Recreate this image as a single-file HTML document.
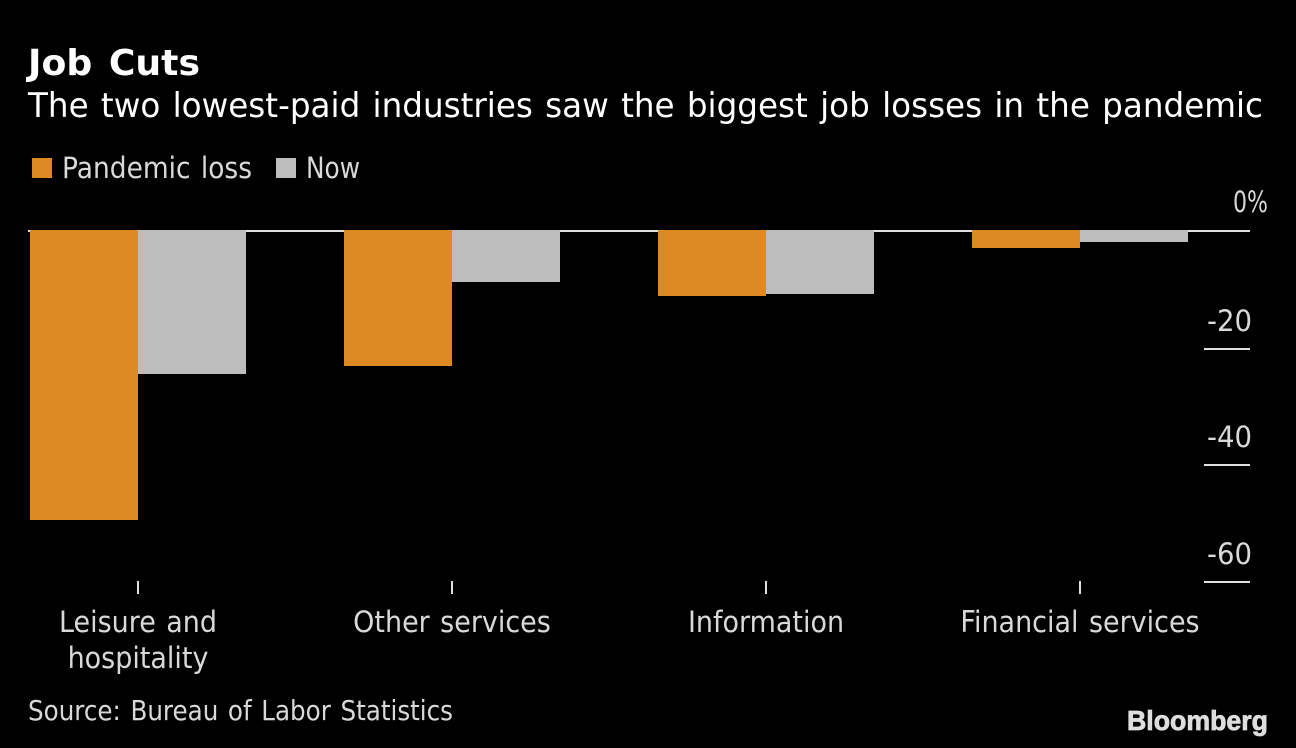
<!DOCTYPE html>
<html>
<head>
<meta charset="utf-8">
<style>
html,body{margin:0;padding:0;background:#000;width:1296px;height:748px;overflow:hidden}
svg{display:block}
text{font-family:"WenQuanYi Zen Hei","DejaVu Sans","Liberation Sans",sans-serif;word-spacing:2px}
</style>
</head>
<body>
<svg id="chart" xmlns="http://www.w3.org/2000/svg" width="1296" height="748" viewBox="0 0 1296 748">
<rect x="0" y="0" width="1296" height="748" fill="#000"/>
<text x="28" y="75" font-size="36" font-weight="700" fill="#fff" textLength="172" lengthAdjust="spacingAndGlyphs" style="word-spacing:4px">Job Cuts</text>
<text x="28" y="117" font-size="34" fill="#fff" textLength="1235" lengthAdjust="spacingAndGlyphs">The two lowest-paid industries saw the biggest job losses in the pandemic</text>
<rect x="32" y="158" width="20" height="20" fill="#dd8a24"/>
<text x="62" y="178" font-size="29" fill="#d9d9d9" textLength="190" lengthAdjust="spacingAndGlyphs">Pandemic loss</text>
<rect x="276" y="158" width="20" height="20" fill="#bdbdbd"/>
<text x="306" y="178" font-size="29" fill="#d9d9d9" textLength="54" lengthAdjust="spacingAndGlyphs">Now</text>
<g id="marks"></g>
<text x="28" y="720" font-size="28" fill="#d9d9d9" textLength="425" lengthAdjust="spacingAndGlyphs">Source: Bureau of Labor Statistics</text>
<text x="1127" y="730" font-size="28" font-weight="700" fill="#dedede" stroke="#dedede" stroke-width="0.8" textLength="141" lengthAdjust="spacingAndGlyphs" style="font-family:'Liberation Sans',sans-serif">Bloomberg</text>
</svg>
<script>
const categories = ["Leisure and|hospitality", "Other services", "Information", "Financial services"];
const pandemicLoss = [-49.3, -22.9, -10.9, -2.7];
const nowValues = [-24.3, -8.5, -10.6, -1.6];
const yTicks = [0, -20, -40, -60];
const yTickLabels = ["0%", "-20", "-40", "-60"];

const NS = "http://www.w3.org/2000/svg";
const marks = document.getElementById("marks");
const Y0 = 232.2, PX_PER_UNIT = 5.83, BASELINE_Y = 231;
const X0 = 138, STEP = 314, BAR_W = 108;
const LABEL_SQUEEZE = 0.93, Y_LABEL_SQUEEZE = 0.95, ZERO_LABEL_SQUEEZE = 0.76;
const yScale = v => Y0 - v * PX_PER_UNIT;
const xScale = i => X0 + i * STEP;

function make(tag, attrs, text) {
  const el = document.createElementNS(NS, tag);
  for (const k in attrs) el.setAttribute(k, attrs[k]);
  if (text !== undefined) el.textContent = text;
  marks.appendChild(el);
  return el;
}

yTicks.forEach((t, i) => {
  const isZero = t === 0;
  const y = isZero ? BASELINE_Y : Math.round(yScale(t));
  const line = make("rect", {x: isZero ? 28 : 1204, y: y - 1, width: isZero ? 1222 : 46, height: 2, fill: "#e0e0e0"});
  
  
  const squeeze = isZero ? ZERO_LABEL_SQUEEZE : Y_LABEL_SQUEEZE;
  const label = make("text", {transform: `translate(${isZero ? 1268 : 1252},0) scale(${squeeze},1)`, x: 0, y: y - (isZero ? 19 : 18), "font-size": 29, fill: "#d9d9d9", "text-anchor": "end"}, yTickLabels[i]);
  
  
});

categories.forEach((c, i) => {
  const x = xScale(i);
  const a = pandemicLoss[i], b = nowValues[i];
  const top = BASELINE_Y - 1;
  const barA = make("rect", {x: x - BAR_W, y: top, width: BAR_W, height: Math.round(yScale(a)) - top, fill: "#dd8a24"});
  
  
  const barB = make("rect", {x: x, y: top, width: BAR_W, height: Math.round(yScale(b)) - top, fill: "#bdbdbd"});
  
  
  const tick = make("rect", {x: x - 1, y: 581, width: 2, height: 13, fill: "#e0e0e0"});
  
  
  c.split("|").forEach((part, j) => {
    const label = make("text", {transform: `translate(${x},0) scale(${LABEL_SQUEEZE},1)`, x: 0, y: 632 + j * 36, "font-size": 29, fill: "#d9d9d9", "text-anchor": "middle"}, part);
    
    
  });
});
</script>
</body>
</html>
